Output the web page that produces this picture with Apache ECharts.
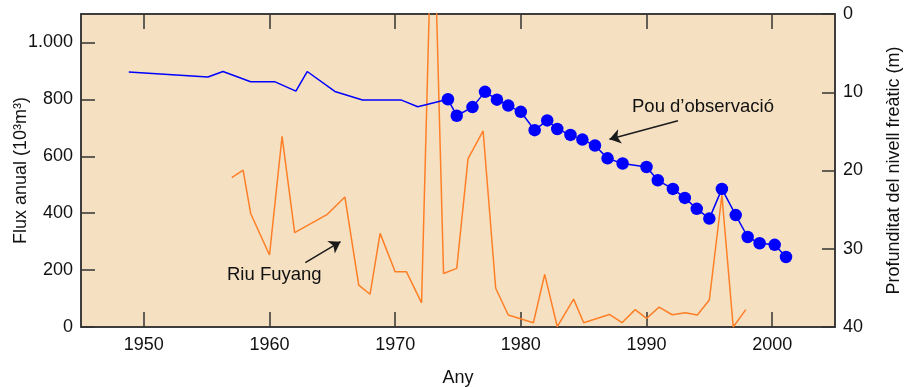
<!DOCTYPE html>
<html><head><meta charset="utf-8">
<script src="https://cdn.jsdelivr.net/npm/echarts@6/dist/echarts.min.js"></script>
<style>html,body{margin:0;padding:0;background:#fff}#c{width:904px;height:387px}</style>
</head><body><div id="c"></div>
<script>
// X axis tick labels (years)
const xTicks = [1950, 1960, 1970, 1980, 1990, 2000];
const leftTicks = [0, 200, 400, 600, 800, 1000];
const rightTicks = [0, 10, 20, 30, 40];

// Pou d'observació — early record (no markers), depth in m
const pouEarlyYears = [1948.8, 1955.1, 1956.3, 1958.5, 1960.4, 1962.1, 1963.0, 1965.2, 1967.4, 1970.5, 1971.8, 1974.2];
const pouEarlyDepth = [7.4, 8.05, 7.35, 8.65, 8.65, 9.85, 7.35, 9.9, 11.0, 11.0, 11.85, 10.9];

// Pou d'observació — annual measurements (markers)
const pouYears = [1974.2, 1974.9, 1976.15, 1977.15, 1978.1, 1979.0, 1980.0, 1981.1, 1982.1, 1982.9, 1983.95, 1984.9, 1985.9, 1986.9, 1988.1, 1990.0, 1990.9, 1992.1, 1993.05, 1994.0, 1995.0, 1996.0, 1997.1, 1998.05, 1999.0, 2000.2, 2001.1];
const pouDepth = [10.9, 13.0, 11.9, 9.95, 10.95, 11.7, 12.5, 14.85, 13.6, 14.7, 15.45, 16.05, 16.8, 18.45, 19.1, 19.55, 21.25, 22.35, 23.5, 24.9, 26.15, 22.35, 25.7, 28.5, 29.3, 29.5, 31.05];

// Riu Fuyang — annual flow (10^3 m^3)
const riuYears = [1957.0, 1957.9, 1958.5, 1960.0, 1961.0, 1962.0, 1964.6, 1966.0, 1967.1, 1968.0, 1968.8, 1970.0, 1970.9, 1972.1, 1973.0, 1973.85, 1974.9, 1975.8, 1977.0, 1978.0, 1979.0, 1981.0, 1981.9, 1982.9, 1984.2, 1985.0, 1987.05, 1988.05, 1989.1, 1990.0, 1991.0, 1992.05, 1993.1, 1994.05, 1995.0, 1996.0, 1996.9, 1997.9];
const riuFlux = [525, 551, 399, 253, 670, 332, 396, 457, 147, 115, 329, 194, 194, 85, 1600, 188, 206, 592, 689, 136, 42, 15, 185, 1, 98, 15, 44, 15, 61, 30, 70, 43, 50, 42, 95, 463, 0, 61];

const zip = (a, b) => a.map((v, i) => [v, b[i]]);
const FONT = '"Liberation Sans", Arial, Helvetica, sans-serif';
const AX = '#333333';
const FS = 18;
const fmtThousands = v => String(v).replace(/\B(?=(\d{3})+(?!\d))/g, '.');

const chart = echarts.init(document.getElementById('c'), null, {renderer: 'canvas'});
chart.setOption({
  animation: false,
  textStyle: {fontFamily: FONT},
  grid: {left: 81, right: 69, top: 14, bottom: 60, containLabel: false, outerBoundsMode: 'none',
         show: true, backgroundColor: '#F5E0C2', borderColor: AX, borderWidth: 1.5},
  xAxis: [{
    type: 'value', min: 1945, max: 2005, position: 'bottom',
    name: 'Any', nameLocation: 'middle', nameGap: 42, nameMoveOverlap: false,
    nameTextStyle: {fontSize: FS, color: '#111', fontFamily: FONT},
    axisLine: {show: true, lineStyle: {color: AX, width: 1.5}},
    axisTick: {show: true, inside: true, length: 15, customValues: xTicks, lineStyle: {color: AX, width: 1.5}},
    axisLabel: {customValues: xTicks, fontSize: FS, color: '#111', margin: 9, fontFamily: FONT, formatter: v => String(v)},
    splitLine: {show: false}
  }, {
    type: 'value', min: 1945, max: 2005, position: 'top',
    axisLine: {show: true, lineStyle: {color: AX, width: 1.5}},
    axisTick: {show: true, inside: true, length: 15, customValues: xTicks, lineStyle: {color: AX, width: 1.5}},
    axisLabel: {show: false},
    splitLine: {show: false}
  }],
  yAxis: [{
    type: 'value', min: 0, max: 1100, position: 'left',
    name: 'Flux anual (10³m³)', nameLocation: 'middle', nameGap: 51, nameRotate: 90, nameMoveOverlap: false,
    nameTextStyle: {fontSize: FS, color: '#111', fontFamily: FONT},
    axisLine: {show: true, lineStyle: {color: AX, width: 1.5}},
    axisTick: {show: true, inside: true, length: 14, customValues: leftTicks, lineStyle: {color: AX, width: 1.5}},
    axisLabel: {customValues: leftTicks, fontSize: FS, color: '#111', margin: 8, fontFamily: FONT, formatter: v => fmtThousands(v)},
    splitLine: {show: false}
  }, {
    type: 'value', min: 0, max: 40, inverse: true, position: 'right',
    name: 'Profunditat del nivell freàtic (m)', nameLocation: 'middle', nameGap: 50, nameRotate: 90, nameMoveOverlap: false,
    nameTextStyle: {fontSize: FS, color: '#111', fontFamily: FONT},
    axisLine: {show: true, lineStyle: {color: AX, width: 1.5}},
    axisTick: {show: true, inside: true, length: 13, customValues: rightTicks, lineStyle: {color: AX, width: 1.5}},
    axisLabel: {customValues: rightTicks, fontSize: FS, color: '#111', margin: 8, fontFamily: FONT},
    splitLine: {show: false}
  }],
  series: [{
    name: 'Riu Fuyang', type: 'line', xAxisIndex: 0, yAxisIndex: 0,
    data: zip(riuYears, riuFlux), showSymbol: false, symbol: 'none', clip: true,
    lineStyle: {color: '#FF7F27', width: 1.5},
    markLine: {
      silent: true, symbol: ['none', 'arrow'], symbolSize: 11,
      lineStyle: {color: '#1a1a1a', width: 1.5, type: 'solid'}, label: {show: false},
      data: [[{coord: [1962.85, 226]}, {coord: [1965.65, 300]}]]
    }
  }, {
    name: 'Pou early', type: 'line', xAxisIndex: 0, yAxisIndex: 1,
    data: zip(pouEarlyYears, pouEarlyDepth), showSymbol: false, symbol: 'none',
    lineStyle: {color: '#0000FF', width: 1.5}
  }, {
    name: "Pou d'observació", type: 'line', xAxisIndex: 0, yAxisIndex: 1,
    data: zip(pouYears, pouDepth), symbol: 'circle', symbolSize: 12.5, showSymbol: true,
    itemStyle: {color: '#0000FF'}, lineStyle: {color: '#0000FF', width: 1.5},
    markLine: {
      silent: true, symbol: ['none', 'arrow'], symbolSize: 11,
      lineStyle: {color: '#1a1a1a', width: 1.5, type: 'solid'}, label: {show: false},
      data: [[{coord: [1992.5, 13.65]}, {coord: [1987.05, 16.0]}]]
    }
  }],
  graphic: [
    {type: 'text', left: 632, top: 97, style: {text: 'Pou d’observació', fontSize: 18.5, fill: '#111', fontFamily: FONT}},
    {type: 'text', left: 227, top: 265, style: {text: 'Riu Fuyang', fontSize: 18.5, fill: '#111', fontFamily: FONT}}
  ]
});
</script></body></html>
